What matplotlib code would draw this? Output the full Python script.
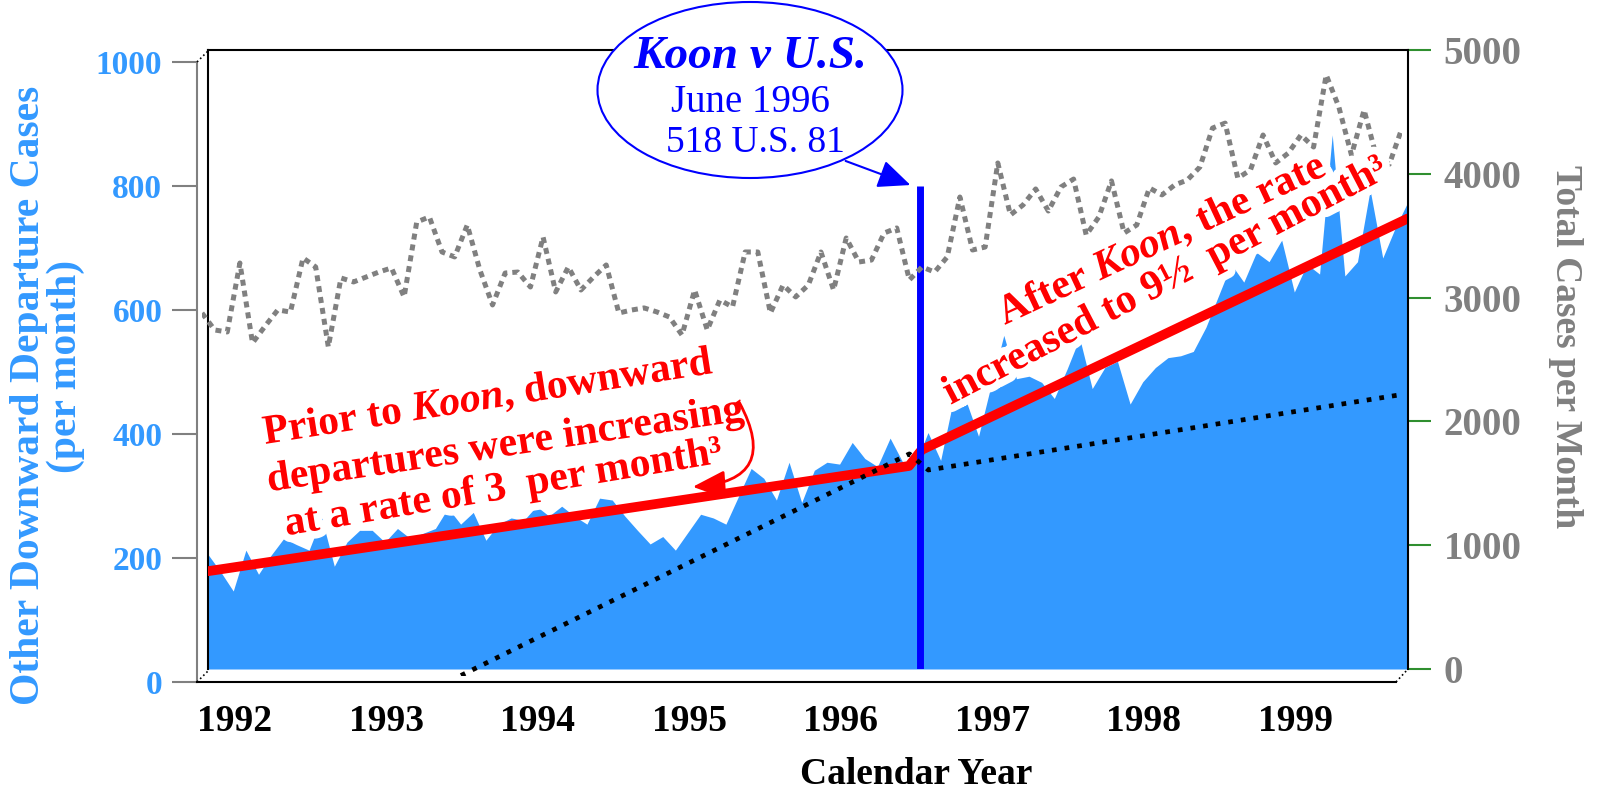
import numpy as np
import matplotlib.pyplot as plt
import matplotlib.patheffects as pe
from matplotlib.patches import Ellipse, FancyArrowPatch
from matplotlib.lines import Line2D

plt.rcParams['font.family'] = ['Liberation Serif', 'DejaVu Serif']
plt.rcParams['mathtext.fontset'] = 'custom'
plt.rcParams['mathtext.rm'] = 'Liberation Serif:bold'
plt.rcParams['mathtext.it'] = 'Liberation Serif:italic:bold'
plt.rcParams['mathtext.bf'] = 'Liberation Serif:bold'

# monthly data, Oct 1991 .. Sep 1999 (index 0 = Oct 1991)
other_departures = [185, 157, 126, 192, 153, 184, 211, 201, 192, 244,
                    166, 205, 224, 224, 205, 227, 211, 219, 227, 260,
                    234, 253, 208, 234, 244, 240, 263, 247, 263, 247,
                    234, 276, 273, 247, 224, 202, 214, 192, 221, 250,
                    244, 234, 279, 324, 308, 273, 334, 269, 321, 334,
                    331, 366, 340, 327, 373, 334, 331, 382, 337, 434,
                    434, 376, 459, 539, 469, 473, 463, 437, 484, 535,
                    453, 487, 497, 428, 464, 487, 503, 506, 513, 552,
                    603, 654, 625, 673, 658, 693, 609, 654, 638, 863,
                    635, 658, 774, 664, 713, 755]
total_cases = [2928, 2791, 2775, 3332, 2686, 2823, 2953, 2936, 3373, 3300,
               2654, 3211, 3179, 3219, 3259, 3292, 3058, 3663, 3704, 3421,
               3381, 3639, 3275, 2993, 3251, 3259, 3138, 3542, 3098, 3300,
               3114, 3219, 3316, 2928, 2952, 2969, 2937, 2896, 2750, 3114,
               2791, 3033, 2977, 3421, 3421, 2928, 3154, 3058, 3154, 3421,
               3114, 3534, 3340, 3356, 3574, 3615, 3195, 3300, 3259, 3381,
               3865, 3437, 3461, 4140, 3720, 3801, 3930, 3752, 3946, 4010,
               3558, 3704, 3995, 3574, 3639, 3938, 3882, 3962, 4002, 4107,
               4422, 4462, 4018, 4083, 4366, 4140, 4220, 4366, 4269, 4851,
               4592, 4204, 4568, 4180, 4130, 4422]
months = np.arange(len(other_departures))

trend_x = [0, 55.5, 56.5, 95]          # red trend (left axis)
trend_y = [158, 328, 354, 728]
total_trend_x = [20.5, 56, 57.5, 95]   # black dotted (right axis)
total_trend_y = [0, 1790, 1660, 2270]
koon_x = 56.4
koon_top = 780

years = ['1992', '1993', '1994', '1995', '1996', '1997', '1998', '1999']
year_pos = [3 + 12 * k for k in range(len(years))]
left_ticks = [0, 200, 400, 600, 800, 1000]
right_ticks = [0, 1000, 2000, 3000, 4000, 5000]

BLUE = '#3399ff'
GREY = '#808080'
GREEN = '#2f8f2f'

W, H = 1600, 795
fig = plt.figure(figsize=(16, 7.95), dpi=100)


def box(x0, y0, x1, y1):
    return [x0 / W, 1 - y1 / H, (x1 - x0) / W, (y1 - y0) / H]


def fp(x, y):
    return (x / W, 1 - y / H)


# back wall
back = fig.add_axes(box(208, 50, 1408, 669))
back.set_xlim(0, 95)
back.set_ylim(0, 1000)
back.fill_between(months, other_departures, 0, color=BLUE, lw=0)
back.plot(trend_x, trend_y, color='red', lw=7, solid_capstyle='round',
          solid_joinstyle='round', zorder=3)
back.vlines(koon_x, 0, koon_top, color='#0000ff', lw=5, zorder=4)
back.set_xticks([])
back.set_yticks([])
for s in ['bottom', 'right']:
    back.spines[s].set_visible(False)
for s in ['left', 'top']:
    back.spines[s].set_linewidth(1.5)

right = back.twinx()
right.set_ylim(0, 5000)
right.set_yticks(right_ticks)
right.set_yticklabels([str(t) for t in right_ticks], color=GREY,
                      fontsize=28, fontweight='bold')
right.tick_params(axis='y', color=GREEN, length=16.5, width=1.5, pad=9)
for s in ['bottom', 'left', 'top']:
    right.spines[s].set_visible(False)
right.spines['right'].set_linewidth(1.5)

# middle plane: total cases
mid = fig.add_axes(box(202, 56.5, 1402, 675.5))
mid.patch.set_visible(False)
mid.set_xlim(0, 95)
mid.set_ylim(0, 5000)
mid.plot(months, total_cases, color=GREY, lw=3.6, linestyle=(0, (1.2, 1.0)))
mid.plot(total_trend_x, total_trend_y, color='black', lw=3.4,
         linestyle=(0, (1, 1.7)))
mid.axis('off')

# front frame with left axis and years
front = fig.add_axes(box(197, 62, 1396, 682))
front.patch.set_visible(False)
front.set_xlim(0, 95)
front.set_ylim(0, 1000)
front.set_yticks(left_ticks)
front.set_yticklabels([str(t) for t in left_ticks], color=BLUE,
                      fontsize=24, fontweight='bold')
front.tick_params(axis='y', color=GREY, length=18, width=1.5, pad=7)
front.set_xticks(year_pos)
front.set_xticklabels(years, fontsize=27, fontweight='bold')
front.tick_params(axis='x', length=0, pad=16)
front.spines['top'].set_visible(False)
front.spines['right'].set_visible(False)
front.spines['left'].set_color(GREY)
front.spines['left'].set_linewidth(1.5)
front.spines['bottom'].set_linewidth(1.5)

for a, b in [((197, 62), (209, 50)), ((197, 682), (209, 670)),
             ((1396, 682), (1408, 669))]:
    fig.add_artist(Line2D([a[0] / W, b[0] / W], [1 - a[1] / H, 1 - b[1] / H],
                          color='black', lw=1.2, linestyle=':'))

# axis titles
fig.text(*fp(29, 395), 'Other Downward Departure Cases', rotation=90,
         ha='center', va='center', color=BLUE, fontsize=30, fontweight='bold')
fig.text(*fp(66, 366), '(per month)', rotation=90,
         ha='center', va='center', color=BLUE, fontsize=30, fontweight='bold')
fig.text(*fp(1566, 347), 'Total Cases per Month', rotation=270,
         ha='center', va='center', color=GREY, fontsize=27, fontweight='bold')
fig.text(*fp(916, 775), 'Calendar Year', ha='center', va='center',
         fontsize=27, fontweight='bold')

# Koon callout
fig.add_artist(Ellipse(fp(750, 90), 305 / W, 176 / H, transform=fig.transFigure,
                       facecolor='white', edgecolor='#0000ff', lw=1.5, zorder=5))
fig.text(*fp(750, 68), 'Koon v U.S.', ha='center', va='baseline', color='#0000ff',
         fontsize=34, fontweight='bold', style='italic', zorder=6)
fig.text(*fp(750, 112), 'June 1996', ha='center', va='baseline', color='#0000ff',
         fontsize=28, zorder=6)
fig.text(*fp(755, 152), '518 U.S. 81', ha='center', va='baseline', color='#0000ff',
         fontsize=27, zorder=6)
fig.add_artist(FancyArrowPatch(fp(843, 160), fp(913, 186), transform=fig.transFigure,
                               arrowstyle='-|>,head_length=0.8,head_width=0.35',
                               mutation_scale=25, color='#0000ff', lw=1.5, zorder=6))

# red annotations
halo = [pe.withStroke(linewidth=11, foreground='white')]
red_lines = [
    ((488, 398), 9, r'Prior to $\mathit{Koon}$, downward'),
    ((505, 446), 8.5, 'departures were increasing'),
    ((503, 489), 9.5, 'at a rate of 3  per month\u00b3'),
    ((1162, 240), 25, r'After $\mathit{Koon}$, the rate'),
    ((1165, 282), 27.5, 'increased to 9\u00bd  per month\u00b3'),
]
for (x, y), ang, s in red_lines:
    fig.text(*fp(x, y), s, rotation=ang, rotation_mode='anchor', ha='center',
             va='center', color='red', fontsize=30, fontweight='bold',
             path_effects=halo, zorder=7)

fig.add_artist(FancyArrowPatch(fp(738, 400), fp(690, 487), transform=fig.transFigure,
                               connectionstyle='arc3,rad=-0.8',
                               arrowstyle='-|>,head_length=0.8,head_width=0.35',
                               mutation_scale=25, color='red', lw=2, zorder=8))

fig.savefig('out.png', dpi=100, facecolor='white')
